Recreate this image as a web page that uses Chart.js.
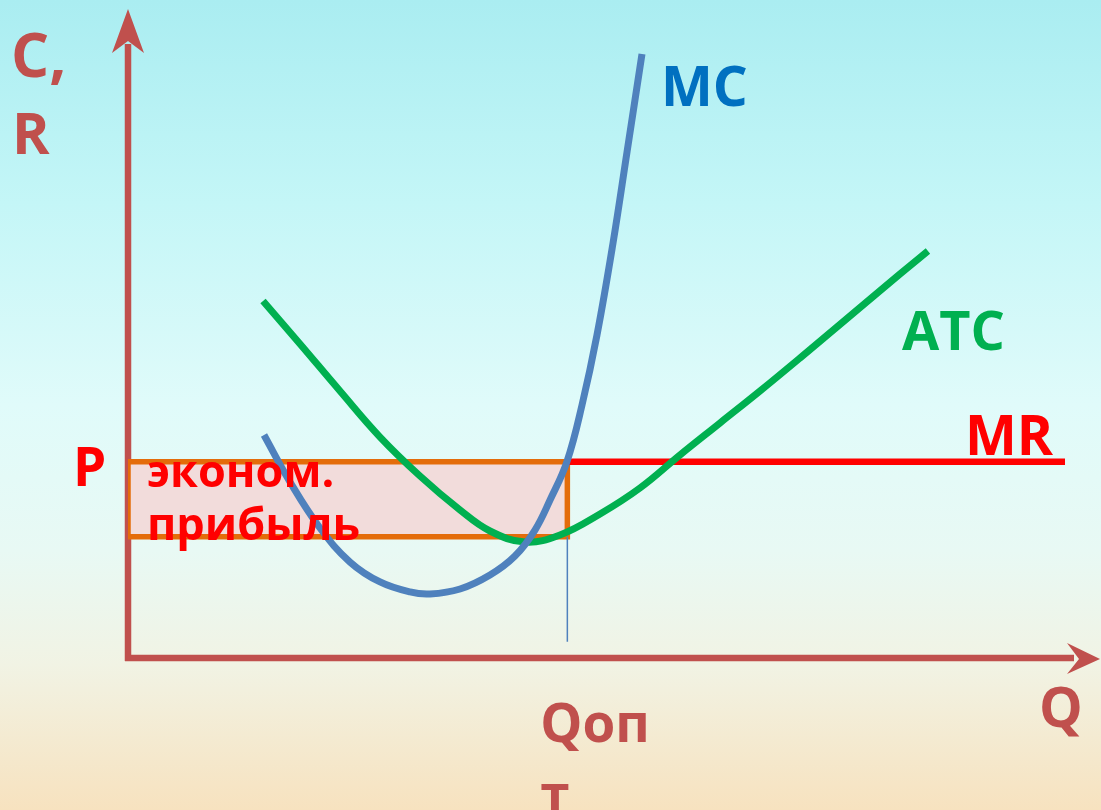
<!DOCTYPE html>
<html lang="ru">
<head>
<meta charset="utf-8">
<title>Экономическая прибыль фирмы</title>
<script src="https://cdn.jsdelivr.net/npm/chart.js@4.4.1/dist/chart.umd.min.js"></script>
<style>
  html, body { margin: 0; padding: 0; }
  body {
    width: 1101px; height: 810px; overflow: hidden;
    background: linear-gradient(to bottom, #aaedf1 0%, #c4f6f7 25%, #e0fbfa 50%, #e8f9f4 68%, #f1f3e4 82%, #f7e2bf 100%);
  }
  #wrap { position: relative; width: 1101px; height: 810px; }
</style>
</head>
<body>
<div id="wrap"><canvas id="chart" width="1101" height="810"></canvas></div>
<script>
// Quantity on the horizontal axis, costs / revenue on the vertical one (relative units 0..100)
const mcQ   = [13.99, 16.67, 19.75, 22.84, 25.93, 29.01, 31.07, 34.16, 37.24, 39.81, 41.87, 43.42, 45.16, 46.71, 48.25, 49.90, 51.34, 52.88];
const mcC   = [34.41, 27.16, 20.06, 14.81, 11.73, 10.19,  9.88, 10.65, 12.81, 15.74, 19.75, 24.38, 30.30, 39.04, 49.85, 64.04, 78.09, 93.21];

const atcQ  = [13.89, 17.70, 21.81, 25.93, 30.04, 34.16, 37.24, 40.84, 44.44, 48.56, 52.67, 56.79, 60.91, 65.02, 69.14, 74.28, 79.42, 82.30];
const atcC  = [55.09, 48.46, 41.20, 34.10, 28.09, 22.84, 19.60, 17.90, 18.98, 22.22, 26.23, 31.33, 36.27, 41.20, 46.30, 52.78, 59.26, 62.81];

const price   = 30.3;   // P = MR
const mrEndQ  = 96.4;
const qOpt    = 45.2;   // MR = MC
const atcAtQ  = 18.7;   // average total cost at Qопт
const qLineLow = 2.5;

const profitLabel = ['эконом.', 'прибыль'];

const toPoints = (xs, ys) => xs.map((x, i) => ({ x, y: ys[i] }));

const AXIS = '#c0504d';

// Axes with arrow heads, drawn beneath the curves
const axesPlugin = {
  id: 'arrowAxes',
  beforeDatasetsDraw(chart) {
    const { ctx, scales: { x, y } } = chart;
    const x0 = x.getPixelForValue(0), y0 = y.getPixelForValue(0);
    const yTop = y.getPixelForValue(100), xEnd = x.getPixelForValue(100);
    ctx.save();
    ctx.fillStyle = AXIS;
    ctx.strokeStyle = AXIS;
    ctx.lineWidth = 6.5;
    ctx.lineCap = 'butt';
    ctx.beginPath();
    ctx.moveTo(x0, y0 + 3);
    ctx.lineTo(x0, yTop + 34);
    ctx.moveTo(x0 - 3, y0);
    ctx.lineTo(xEnd - 26, y0);
    ctx.stroke();
    // vertical arrow head
    ctx.beginPath();
    ctx.moveTo(x0, yTop - 1);
    ctx.lineTo(x0 + 16, yTop + 43);
    ctx.lineTo(x0, yTop + 31);
    ctx.lineTo(x0 - 16, yTop + 43);
    ctx.closePath();
    ctx.fill();
    // horizontal arrow head
    ctx.beginPath();
    ctx.moveTo(xEnd, y0 + 1);
    ctx.lineTo(xEnd - 33, y0 + 16);
    ctx.lineTo(xEnd - 21, y0 + 1);
    ctx.lineTo(xEnd - 33, y0 - 15);
    ctx.closePath();
    ctx.fill();
    ctx.restore();
  }
};

// Text labels of the curves and axes
const labelsPlugin = {
  id: 'curveLabels',
  afterDatasetsDraw(chart) {
    const { ctx, scales: { x, y } } = chart;
    const F = '"Open Sans", "DejaVu Sans", sans-serif';
    const put = (txt, px, py, size, color) => {
      ctx.font = `bold ${size}px ${F}`;
      ctx.fillStyle = color;
      ctx.textBaseline = 'alphabetic';
      ctx.textAlign = 'left';
      ctx.fillText(txt, px, py);
    };
    ctx.save();
    put('C,', 11, 77, 60, AXIS);
    put('R', 12, 154, 57, AXIS);
    put('MC', 661, 106, 55, '#0070c0');
    put('ATC', 902, 350, 54, '#00b050');
    put('MR', 965, 455, 55, '#ff0000');
    put('P', 73, y.getPixelForValue(price) + 24, 53, '#ff0000');
    put('Q', 1039, 727, 55, AXIS);
    put('Qоп', x.getPixelForValue(qOpt) - 27, 742, 53, AXIS);
    put('т', x.getPixelForValue(qOpt) - 27, 813, 53, AXIS);
    put(profitLabel[0], 147, 487, 45, '#ff0000');
    put(profitLabel[1], 147, 540, 45, '#ff0000');
    ctx.restore();
  }
};

const rect = [
  { x: 0, y: atcAtQ }, { x: qOpt, y: atcAtQ }, { x: qOpt, y: price }, { x: 0, y: price }, { x: 0, y: atcAtQ }
];

new Chart(document.getElementById('chart'), {
  type: 'scatter',
  data: {
    datasets: [
      {
        label: 'прибыль',
        data: rect,
        showLine: true,
        fill: 'shape',
        backgroundColor: 'rgba(242, 220, 219, 1)',
        borderColor: '#e46c0a',
        borderWidth: 5.5,
        borderJoinStyle: 'miter',
        pointRadius: 0,
        tension: 0,
        order: 5
      },
      {
        label: 'MR',
        data: [{ x: qOpt, y: price }, { x: mrEndQ, y: price }],
        showLine: true,
        borderColor: '#ff0000',
        borderWidth: 6.5,
        pointRadius: 0,
        tension: 0,
        order: 4
      },
      {
        label: 'Qопт',
        data: [{ x: qOpt, y: atcAtQ }, { x: qOpt, y: qLineLow }],
        showLine: true,
        borderColor: '#4f81bd',
        borderWidth: 1.5,
        pointRadius: 0,
        tension: 0,
        order: 3
      },
      {
        label: 'ATC',
        data: toPoints(atcQ, atcC),
        showLine: true,
        borderColor: '#00b050',
        borderWidth: 7,
        pointRadius: 0,
        tension: 0.4,
        order: 2
      },
      {
        label: 'MC',
        data: toPoints(mcQ, mcC),
        showLine: true,
        borderColor: '#4f81bd',
        borderWidth: 7,
        pointRadius: 0,
        tension: 0.4,
        order: 1
      }
    ]
  },
  options: {
    responsive: false,
    animation: false,
    events: [],
    layout: { padding: { left: 128, right: 1, top: 10, bottom: 152 } },
    plugins: { legend: { display: false }, tooltip: { enabled: false } },
    scales: {
      x: { type: 'linear', min: 0, max: 100, display: false },
      y: { type: 'linear', min: 0, max: 100, display: false }
    }
  },
  plugins: [axesPlugin, labelsPlugin]
});
</script>
</body>
</html>
